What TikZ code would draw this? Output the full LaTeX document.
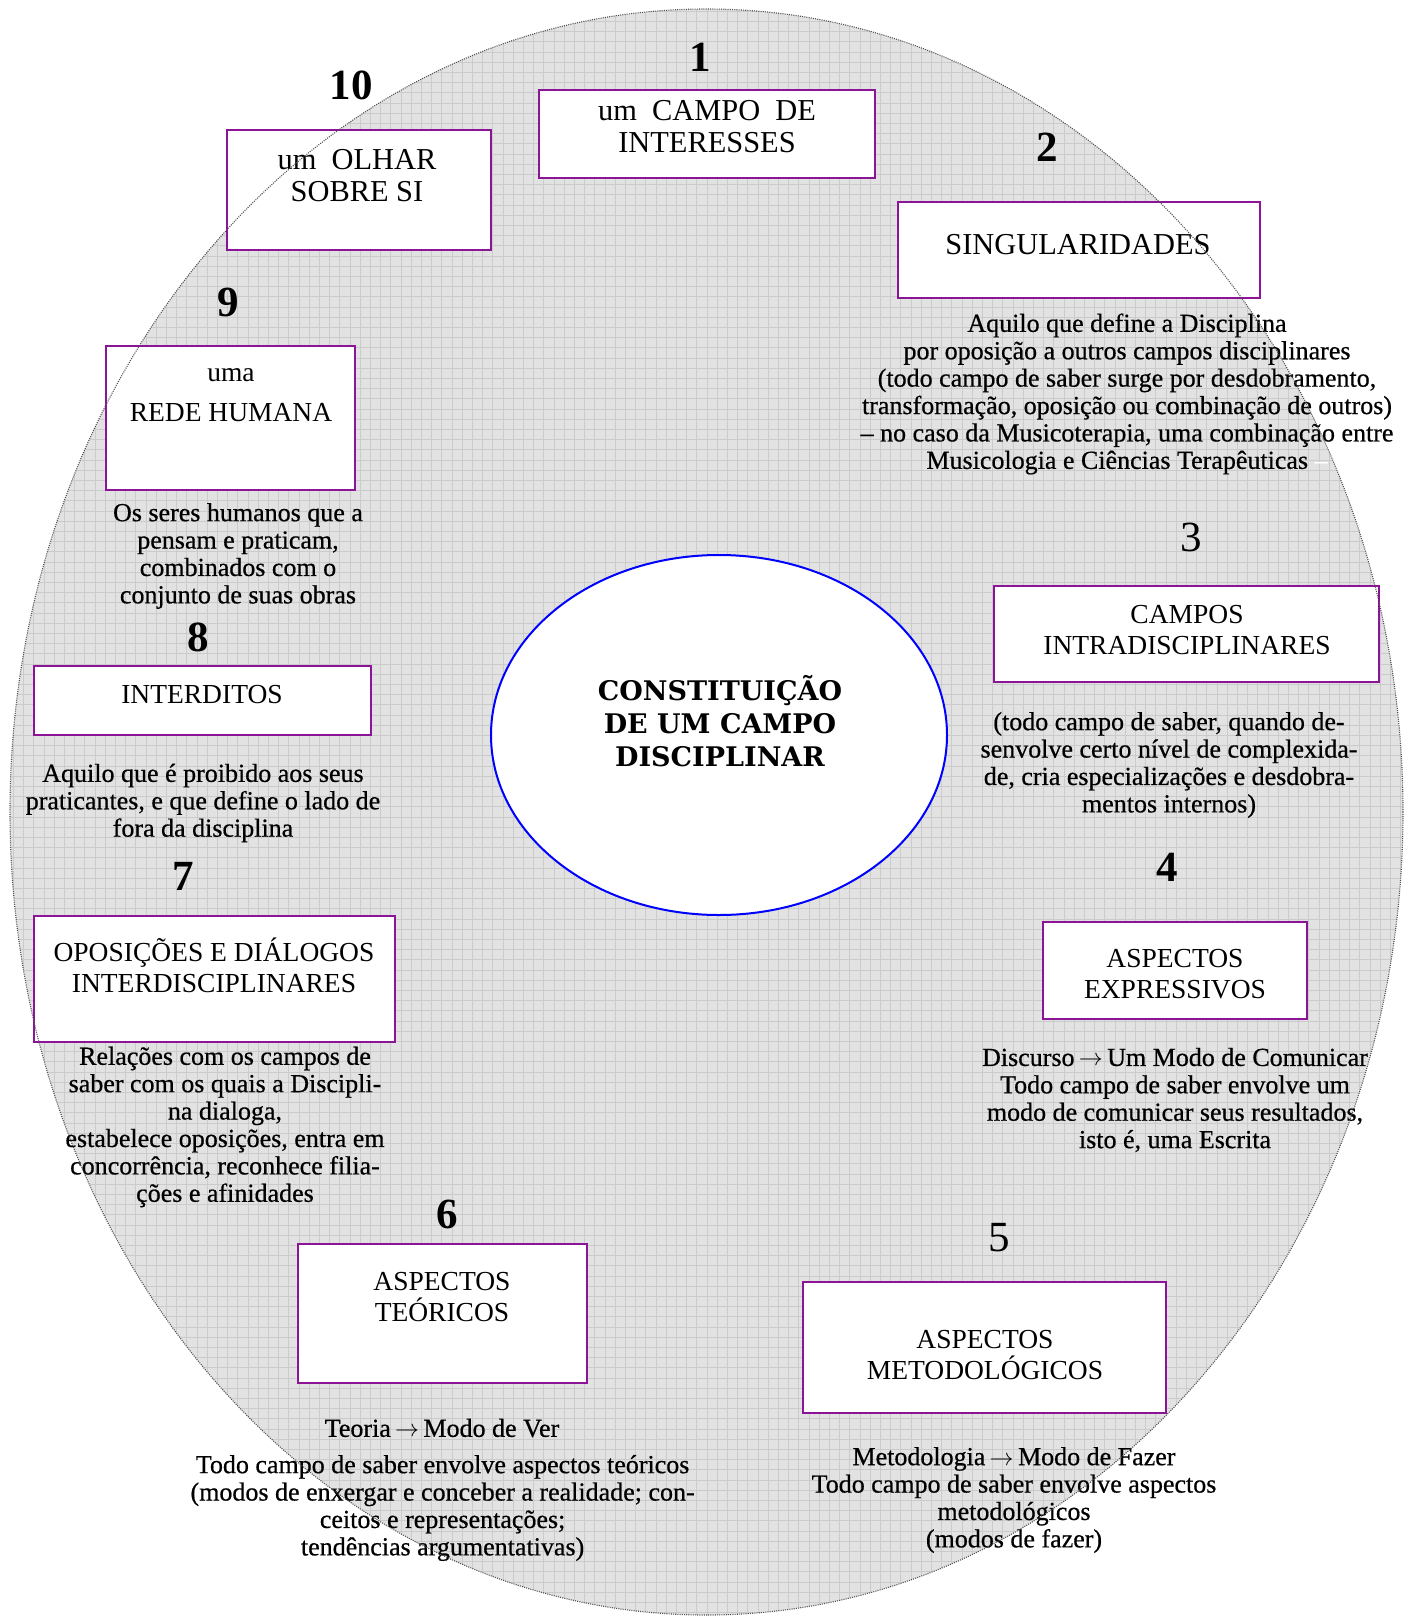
\documentclass[tikz,border=0pt]{standalone}
\usepackage{fontspec}
\setmainfont{Liberation Serif}
\newfontfamily\corefont{DejaVu Serif}
\newfontfamily\notefont{Liberation Serif}[FakeBold=0.6]
\usetikzlibrary{shapes.geometric}

\definecolor{plum}{RGB}{140,20,150}
\definecolor{sheet}{RGB}{226,226,226}
\definecolor{gridline}{RGB}{203,203,203}
\definecolor{rim}{RGB}{80,80,80}

\newcommand{\toarrow}{\,$\rightarrow$\,}

\tikzset{
  tile/.style={draw=plum, line width=1pt, fill=white, rectangle, inner sep=0pt},
  tiletext/.style={align=center, inner sep=0pt, font=\fontsize{13.75}{15.5}\selectfont},
  bigtiletext/.style={align=center, inner sep=0pt, font=\fontsize{15.2}{16}\selectfont},
  note/.style={align=center, inner sep=0pt, font=\fontsize{13}{13.7}\selectfont\notefont},
  num/.style={inner sep=0pt, font=\fontsize{21.5}{22}\selectfont\bfseries},
  numlight/.style={inner sep=0pt, font=\fontsize{21.5}{22}\selectfont},
}

\begin{document}
\begin{tikzpicture}[x=0.5pt, y=-0.5pt]
\useasboundingbox (0,0) rectangle (1410,1617);

% gridded sheet inside the large oval
\begin{scope}
  \clip (706.5,812) ellipse [x radius=348.25pt, y radius=401.5pt];
  \fill[sheet] (0,0) rectangle (1410,1617);
  \foreach \k in {0,...,138}
    \draw[gridline, line width=0.45pt] ({3.2+10.2*\k},0) -- ({3.2+10.2*\k},1617);
  \foreach \k in {0,...,158}
    \draw[gridline, line width=0.45pt] (0,{1+10.2*\k}) -- (1410,{1+10.2*\k});
\end{scope}

% boxes
\node[tile, minimum width=168pt,   minimum height=44pt]   (b1)  at (707,134)     {};
\node[tile, minimum width=132pt,   minimum height=60pt]   (b10) at (359,190)     {};
\node[tile, minimum width=181pt,   minimum height=48pt]   (b2)  at (1079,250)    {};
\node[tile, minimum width=124.5pt, minimum height=72pt]   (b9)  at (230.5,418)   {};
\node[tile, minimum width=168.5pt, minimum height=34.5pt] (b8)  at (202.5,700.5) {};
\node[tile, minimum width=180.5pt, minimum height=63pt]   (b7)  at (214.5,979)   {};
\node[tile, minimum width=192.5pt, minimum height=48pt]   (b3)  at (1186.5,634)  {};
\node[tile, minimum width=132pt,   minimum height=48.5pt] (b4)  at (1175,970.5)  {};
\node[tile, minimum width=144.5pt, minimum height=69.5pt] (b6)  at (442.5,1313.5){};
\node[tile, minimum width=181.5pt, minimum height=65.5pt] (b5)  at (984.5,1347.5){};

% central oval
\node[ellipse, draw=blue, line width=1pt, fill=white, minimum width=228pt, minimum height=180pt, inner sep=0pt] (core) at (719,735) {};
\node[align=center, inner sep=0pt, font=\fontsize{13.5}{16.5}\selectfont\corefont\bfseries] (coretitle) at (720,721)
  {CONSTITUIÇÃO\\DE UM CAMPO\\DISCIPLINAR};

% box labels
\node[bigtiletext] (b1t)  at (707,127)   {um\ \ CAMPO\ \ DE\\INTERESSES};
\node[bigtiletext] (b10t) at (357,176)   {um\ \ OLHAR\\SOBRE SI};
\node[bigtiletext] (b2t)  at (1078,245)  {SINGULARIDADES};
\node[tiletext] (b9t)  at (231,395)   {uma\\[4.5pt]REDE HUMANA};
\node[tiletext] (b8t)  at (202,694.5) {INTERDITOS};
\node[tiletext] (b7t)  at (214,965.5) {OPOSIÇÕES E DIÁLOGOS\\INTERDISCIPLINARES};
\node[tiletext] (b3t)  at (1187,630)  {CAMPOS\\INTRADISCIPLINARES};
\node[tiletext] (b4t)  at (1175,974.5){ASPECTOS\\EXPRESSIVOS};
\node[tiletext] (b6t)  at (442,1297)  {ASPECTOS\\TEÓRICOS};
\node[tiletext] (b5t)  at (985,1355)  {ASPECTOS\\METODOLÓGICOS};

% numbers
\node[num]      (n1)  at (700,57.5)    {1};
\node[num]      (n2)  at (1047.5,147.5){2};
\node[numlight] (n3)  at (1191,537)    {3};
\node[num]      (n4)  at (1167.5,867)  {4};
\node[numlight] (n5)  at (999.5,1237.5){5};
\node[num]      (n6)  at (447,1214)    {6};
\node[num]      (n7)  at (183.5,876)   {7};
\node[num]      (n8)  at (198,637)     {8};
\node[num]      (n9)  at (228,302)     {9};
\node[num]      (n10) at (351,85)      {10};

% descriptions
\node[note] (d2) at (1127,394) {Aquilo que define a Disciplina\\
  por oposição a outros campos disciplinares\\
  (todo campo de saber surge por desdobramento,\\
  transformação, oposição ou combinação de outros)\\
  – no caso da Musicoterapia, uma combinação entre\\
  Musicologia e Ciências Terapêuticas \textcolor{white}{–}};
\node[note] (d9) at (238,556) {Os seres humanos que a\\pensam e praticam,\\combinados com o\\conjunto de suas obras};
\node[note] (d8) at (203,803) {Aquilo que é proibido aos seus\\praticantes, e que define o lado de\\fora da disciplina};
\node[note] (d7) at (225,1127) {Relações com os campos de\\saber com os quais a Discipli-\\na dialoga,\\estabelece oposições, entra em\\concorrência, reconhece filia-\\ções e afinidades};
\node[note] (d3) at (1169,765) {(todo campo de saber, quando de-\\senvolve certo nível de complexida-\\de, cria especializações e desdobra-\\mentos internos)};
\node[note] (d4) at (1175,1100) {Discurso\toarrow Um Modo de Comunicar\\Todo campo de saber envolve um\\modo de comunicar seus resultados,\\isto é, uma Escrita};
\node[note] (d5) at (1014,1500) {Metodologia\toarrow Modo de Fazer\\Todo campo de saber envolve aspectos\\metodológicos\\(modos de fazer)};
\node[note] (d6a) at (442,1428) {Teoria\toarrow Modo de Ver};
\node[note] (d6b) at (442.6,1508) {Todo campo de saber envolve aspectos teóricos\\(modos de enxergar e conceber a realidade; con-\\ceitos e representações;\\tendências argumentativas)};

% dotted rim of the large oval, drawn over everything
\draw[rim, line width=0.55pt, dash pattern=on 0.5pt off 0.6pt] (706.5,812) ellipse [x radius=348.25pt, y radius=401.5pt];
\end{tikzpicture}
\end{document}
